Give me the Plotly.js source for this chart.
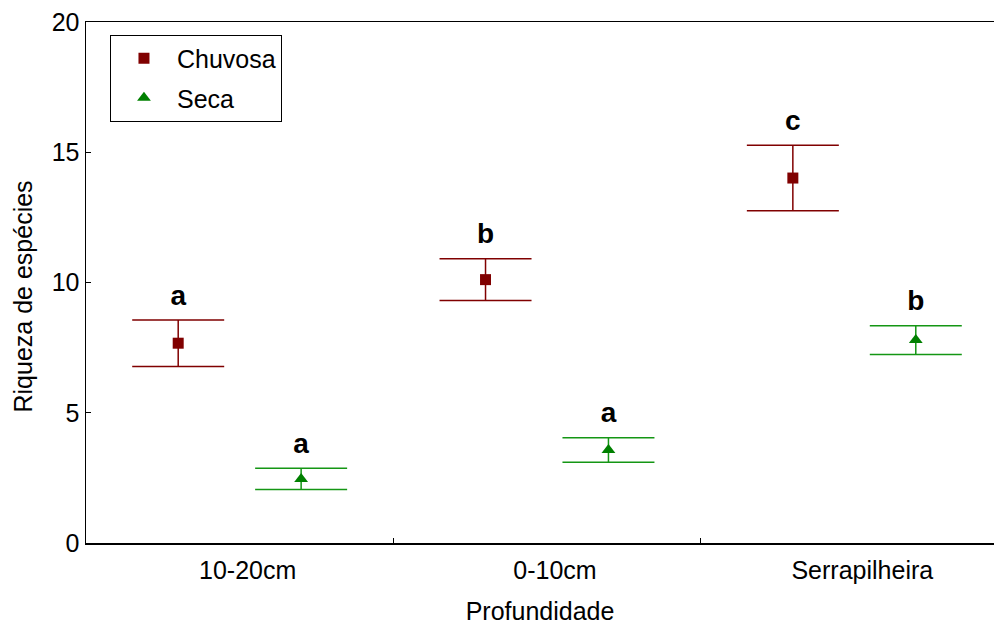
<!DOCTYPE html>
<html>
<head>
<meta charset="utf-8">
<script src="https://cdn.plot.ly/plotly-3.0.1.min.js"></script>
<style>html,body{margin:0;padding:0;background:#fff;}#chart{width:994px;height:626px;}</style>
</head>
<body>
<div id="chart"></div>
<script>
const categories = ["10-20cm", "0-10cm", "Serrapilheira"];
const chuvosaMean = [7.67, 10.11, 14.01];
const chuvosaErr = [0.89, 0.80, 1.26];
const secaMean = [2.46, 3.57, 7.79];
const secaErr = [0.41, 0.47, 0.55];
const chuvosaLetters = ["a", "b", "c"];
const secaLetters = ["a", "a", "b"];

const red = "rgb(128,0,0)";
const green = "rgb(0,128,0)";
const errGreen = "rgb(20,150,20)";
const FONT = "Arial, 'Liberation Sans', sans-serif";

const upper = (m, e) => m.map((v, i) => v + e[i]);

const traces = [
  {
    type: "scatter", mode: "markers", name: "Chuvosa", legendgroup: "g1",
    x: categories, y: chuvosaMean, offsetgroup: "chuvosa",
    marker: {symbol: "square", size: 11, color: red},
    error_y: {type: "data", array: chuvosaErr, visible: true, color: red, thickness: 1.5, width: 46},
    hoverinfo: "skip"
  },
  {
    type: "scatter", mode: "markers", name: "Seca", legendgroup: "g2",
    x: categories, y: secaMean, offsetgroup: "seca",
    marker: {symbol: "triangle-up", size: 12, color: green},
    error_y: {type: "data", array: secaErr, visible: true, color: errGreen, thickness: 1.5, width: 46},
    hoverinfo: "skip"
  },
  {
    type: "scatter", mode: "markers+text", showlegend: false,
    x: categories, y: upper(chuvosaMean, chuvosaErr), offsetgroup: "chuvosa",
    text: chuvosaLetters, textposition: "top center",
    textfont: {family: FONT, size: 28, color: "#000", weight: "bold"},
    marker: {size: 12, opacity: 0}, hoverinfo: "skip"
  },
  {
    type: "scatter", mode: "markers+text", showlegend: false,
    x: categories, y: upper(secaMean, secaErr), offsetgroup: "seca",
    text: secaLetters, textposition: "top center",
    textfont: {family: FONT, size: 28, color: "#000", weight: "bold"},
    marker: {size: 12, opacity: 0}, hoverinfo: "skip"
  }
];

const layout = {
  width: 994, height: 626,
  margin: {l: 86, r: 0, t: 22, b: 83, pad: 0},
  paper_bgcolor: "#fff", plot_bgcolor: "#fff",
  font: {family: FONT, size: 26, color: "#000"},
  scattermode: "group", scattergap: 0.2,
  showlegend: true,
  legend: {
    x: 0.0264, y: 0.976, xanchor: "left", yanchor: "top",
    bgcolor: "#fff", bordercolor: "#000", borderwidth: 1,
    font: {size: 25}, itemwidth: 56, tracegroupgap: 4
  },
  xaxis: {
    type: "category", categoryorder: "array", categoryarray: categories,
    range: [-0.5, 2.4545],
    showline: true, linecolor: "#000", linewidth: 1.5, mirror: true,
    ticks: "inside", tickson: "boundaries", ticklen: 5, tickcolor: "#000",
    ticklabelshift: 8, ticklabelstandoff: 4,
    showgrid: false, zeroline: false,
    title: {text: "Profundidade", font: {size: 25}, standoff: 20},
    tickfont: {size: 25}
  },
  yaxis: {
    range: [0, 20], tickvals: [0, 5, 10, 15, 20],
    showline: true, linecolor: "#000", linewidth: 1.5, mirror: true,
    ticks: "inside", ticklen: 5, tickcolor: "#000",
    showgrid: false, zeroline: false,
    tickfont: {size: 25}
  },
  annotations: [{
    text: "Riqueza de espécies", textangle: -90,
    xref: "paper", yref: "paper", x: 0, y: 0.5,
    xanchor: "center", yanchor: "middle", xshift: -64, yshift: -14,
    showarrow: false, font: {size: 25}
  }]
};

Plotly.newPlot("chart", traces, layout, {staticPlot: true, displayModeBar: false});
</script>
</body>
</html>
